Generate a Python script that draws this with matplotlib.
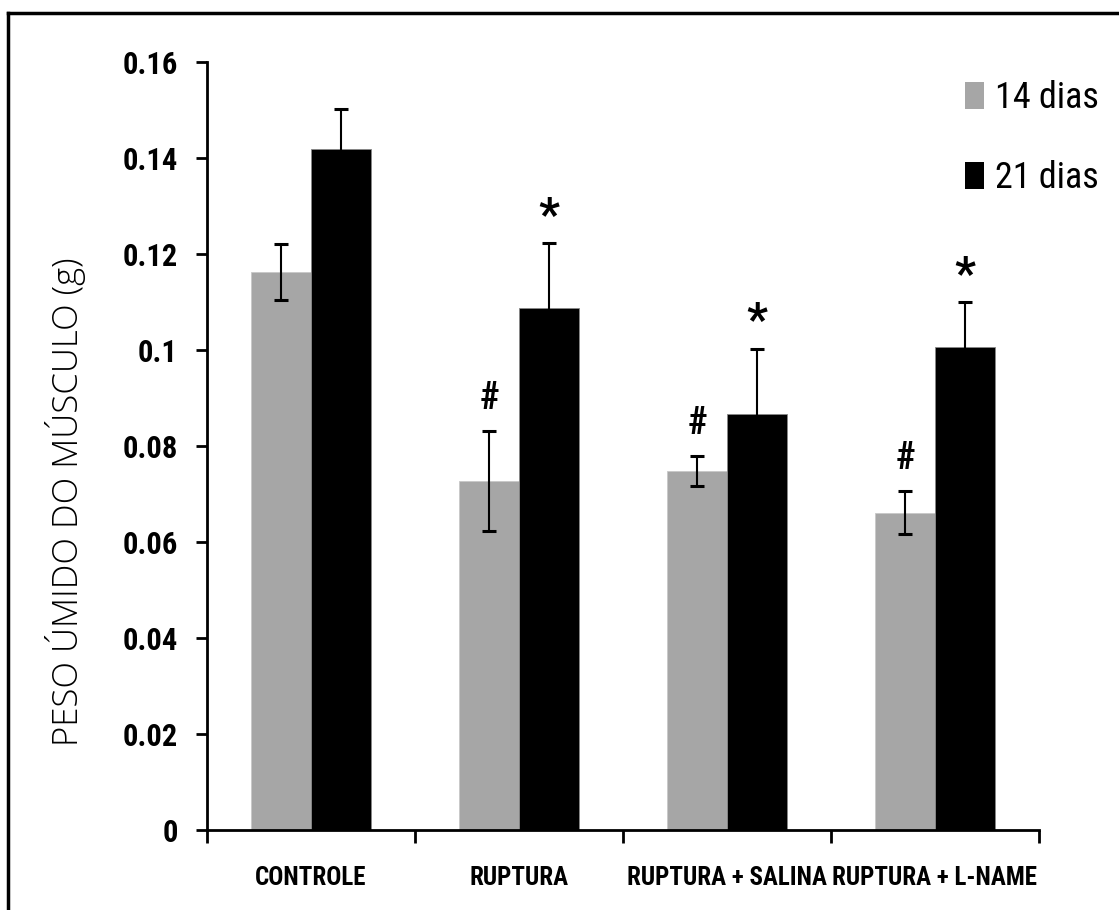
import numpy as np
import matplotlib
matplotlib.use("Agg")
from matplotlib import pyplot as plt
from matplotlib import font_manager
from matplotlib.lines import Line2D
from matplotlib.patches import Patch

# data
groups = ["CONTROLE", "RUPTURA", "RUPTURA + SALINA", "RUPTURA + L-NAME"]
mean_14 = [0.1163, 0.0727, 0.0748, 0.0661]
err_14 = [0.0058, 0.0104, 0.0031, 0.0045]
mean_21 = [0.1418, 0.1088, 0.0866, 0.1007]
err_21 = [0.0085, 0.0135, 0.0137, 0.0092]
mark_14 = ["", "#", "#", "#"]
mark_21 = ["", "*", "*", "*"]
series = ["14 dias", "21 dias"]
yticks = [0, 0.02, 0.04, 0.06, 0.08, 0.1, 0.12, 0.14, 0.16]

GRAY = "#a6a6a6"

# pick a narrow face if one is around
installed = {f.name for f in font_manager.fontManager.ttflist}
narrow = "DejaVu Sans"
for name in ["Liberation Sans Narrow", "Roboto Condensed", "Open Sans Condensed",
             "DejaVu Sans Condensed", "Roboto"]:
    if name in installed:
        narrow = name
        break
NARROW = [narrow, "DejaVu Sans"]

fig = plt.figure(figsize=(11.19, 9.10), dpi=100)
ax = fig.add_axes([0.185, 0.0879, 0.7435, 0.844])

x = np.arange(len(groups))
w = 0.287
ax.bar(x - w / 2, mean_14, w, color=GRAY, edgecolor="#c8c8c8", linewidth=0.6, zorder=2)
ax.bar(x + w / 2, mean_21, w, color="black", edgecolor="#888888", linewidth=0.6, zorder=2)
ax.errorbar(x - w / 2, mean_14, yerr=err_14, fmt="none", ecolor="black",
            elinewidth=1.5, capsize=5, capthick=2.2, zorder=3)
ax.errorbar(x + w / 2, mean_21, yerr=err_21, fmt="none", ecolor="black",
            elinewidth=1.5, capsize=5, capthick=2.2, zorder=3)

# significance marks above the error bars
for i in range(len(groups)):
    if mark_14[i]:
        ax.annotate(mark_14[i], (x[i] - w / 2, mean_14[i] + err_14[i]),
                    xytext=(0, 10), textcoords="offset points", ha="center", va="bottom",
                    fontsize=27, fontweight="bold", family=NARROW)
    if mark_21[i]:
        ax.annotate(mark_21[i], (x[i] + w / 2, mean_21[i] + err_21[i]),
                    xytext=(0, 3), textcoords="offset points", ha="center", va="bottom",
                    fontsize=33, fontweight="bold", family=NARROW)

ax.set_xlim(-0.5, len(groups) - 0.5)
ax.set_ylim(0, 0.16)
ax.set_yticks(yticks)
ax.set_yticklabels([f"{v:g}" for v in yticks], fontsize=22, fontweight="bold", family=NARROW)
ax.set_xticks(x)
ax.set_xticklabels(groups, fontsize=18, fontweight="bold", family=NARROW)
ax.tick_params(axis="x", length=0, pad=26)
ax.set_xticks(np.arange(len(groups) + 1) - 0.5, minor=True)
ax.tick_params(axis="x", which="minor", length=9, width=2, direction="out")
ax.tick_params(axis="y", length=8, width=2, direction="out", pad=13)
for s in ["top", "right"]:
    ax.spines[s].set_visible(False)
for s in ["left", "bottom"]:
    ax.spines[s].set_linewidth(2)

ax.set_ylabel("PESO ÚMIDO DO MÚSCULO (g)", fontsize=25, family=["Open Sans", "DejaVu Sans"],
              fontweight="light")
ax.yaxis.set_label_coords(-0.146, 0.428)

handles = [Patch(facecolor=GRAY), Patch(facecolor="black")]
fig.legend(handles, series, loc="upper left", bbox_to_anchor=(0.862, 0.912),
           frameon=False, prop={"family": NARROW, "size": 26},
           handlelength=0.55, handleheight=0.75, handletextpad=0.3,
           labelspacing=1.22, borderpad=0, borderaxespad=0)

# frame lines (only top and left visible in the original)
fig.add_artist(Line2D([0.0072, 1.0], [0.9857, 0.9857], color="black", linewidth=2.5))
fig.add_artist(Line2D([0.0072, 0.0072], [0.0, 0.9857], color="black", linewidth=2.5))

fig.savefig("out.png", dpi=100)
